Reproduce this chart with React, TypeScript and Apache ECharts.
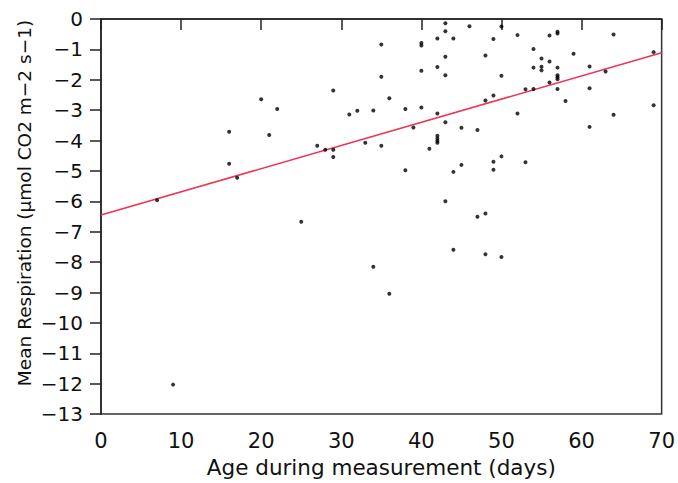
import React, { useEffect, useRef } from "react";
import * as echarts from "echarts";

const ageDays = [
  7, 9, 16, 16, 17, 20, 21, 22, 25, 27, 28, 29, 29, 29, 31, 32, 33, 34, 34, 35,
  35, 35, 36, 36, 38, 38, 39, 40, 40, 40, 40, 41, 42, 42, 42, 42, 42, 42, 42, 43,
  43, 43, 43, 43, 43, 44, 44, 44, 45, 45, 46, 47, 47, 48, 48, 48, 48, 49, 49, 49,
  49, 50, 50, 50, 50, 52, 52, 53, 53, 54, 54, 54, 55, 55, 55, 56, 56, 56, 57, 57,
  57, 57, 57, 57, 57, 58, 59, 61, 61, 61, 63, 64, 64, 69, 69,
];
const respiration = [
  -5.96, -12.03, -3.71, -4.76, -5.22, -2.64, -3.82, -2.96, -6.67, -4.17, -4.3,
  -2.35, -4.3, -4.54, -3.14, -3.02, -4.07, -3.01, -8.15, -0.84, -1.9, -4.17,
  -2.61, -9.04, -2.96, -4.98, -3.57, -0.79, -0.87, -1.7, -2.91, -4.27, -0.64,
  -1.58, -3.11, -3.84, -3.93, -4.01, -4.07, -0.14, -0.4, -1.24, -1.85, -3.4, -6.0,
  -0.64, -5.03, -7.59, -3.58, -4.8, -0.24, -3.65, -6.51, -1.2, -2.68, -6.4, -7.74,
  -0.66, -2.52, -4.7, -4.96, -0.25, -1.87, -4.52, -7.83, -0.53, -3.11, -2.31,
  -4.71, -0.99, -1.6, -2.3, -1.3, -1.57, -1.69, -0.54, -1.4, -2.09, -0.42, -0.48,
  -1.6, -1.85, -1.92, -1.98, -2.3, -2.7, -1.14, -1.56, -2.28, -3.55, -1.73, -0.51,
  -3.15, -1.09, -2.84,
];
const fitX = [0, 70];
const fitY = [-6.45, -1.11];

const xTitle = "Age during measurement (days)";
const yTitle = "Mean Respiration (\u00b5mol CO2 m\u22122 s\u22121)";

const FONT = "DejaVu Sans";

export default function App() {
  const ref = useRef<HTMLDivElement>(null);
  useEffect(() => {
    if (!ref.current) return;
    const chart = echarts.init(ref.current, undefined, { renderer: "svg" });
    const axisLine = { show: true, lineStyle: { color: "#222", width: 1.5 } };
    chart.setOption({
      animation: false,
      backgroundColor: "#fff",
      grid: {
        left: 101,
        right: 15,
        top: 19,
        bottom: 67,
        show: true,
        borderColor: "#333",
        borderWidth: 1.5,
      },
      xAxis: {
        type: "value",
        min: 0,
        max: 70,
        interval: 10,
        axisLine,
        axisTick: { show: true, length: 11, lineStyle: { color: "#222", width: 1.5 } },
        axisLabel: {
          fontFamily: FONT,
          fontSize: 21,
          color: "#111",
          margin: 16,
        },
        splitLine: { show: false },
        name: xTitle,
        nameLocation: "middle",
        nameGap: 41,
        nameTextStyle: { fontFamily: FONT, fontSize: 21.5, color: "#111" },
      },
      yAxis: {
        type: "value",
        min: -13,
        max: 0,
        interval: 1,
        axisLine,
        axisTick: { show: true, length: 11, lineStyle: { color: "#222", width: 1.5 } },
        axisLabel: {
          fontFamily: FONT,
          fontSize: 20,
          color: "#111",
          margin: 18,
          formatter: (v: number) => (v < 0 ? "\u2212" + Math.abs(v) : String(v)),
        },
        splitLine: { show: false },
      },
      graphic: [
        {
          type: "text",
          x: 24,
          y: 203,
          rotation: Math.PI / 2,
          style: {
            text: yTitle,
            fontFamily: FONT,
            fontSize: 18.5,
            fill: "#111",
            textAlign: "center",
            textVerticalAlign: "middle",
          },
        },
      ],
      series: [
        {
          type: "line",
          data: fitX.map((x, i) => [x, fitY[i]]),
          showSymbol: false,
          lineStyle: { color: "#ee3355", width: 1.6 },
          z: 2,
        },
        {
          type: "scatter",
          data: ageDays.map((x, i) => [x, respiration[i]]),
          symbol: "circle",
          symbolSize: 4,
          itemStyle: { color: "#000" },
          z: 3,
        },
      ],
    });
    return () => chart.dispose();
  }, []);
  return (
    <div
      ref={ref}
      style={{ position: "fixed", left: 0, top: 0, width: 678, height: 483 }}
    />
  );
}
